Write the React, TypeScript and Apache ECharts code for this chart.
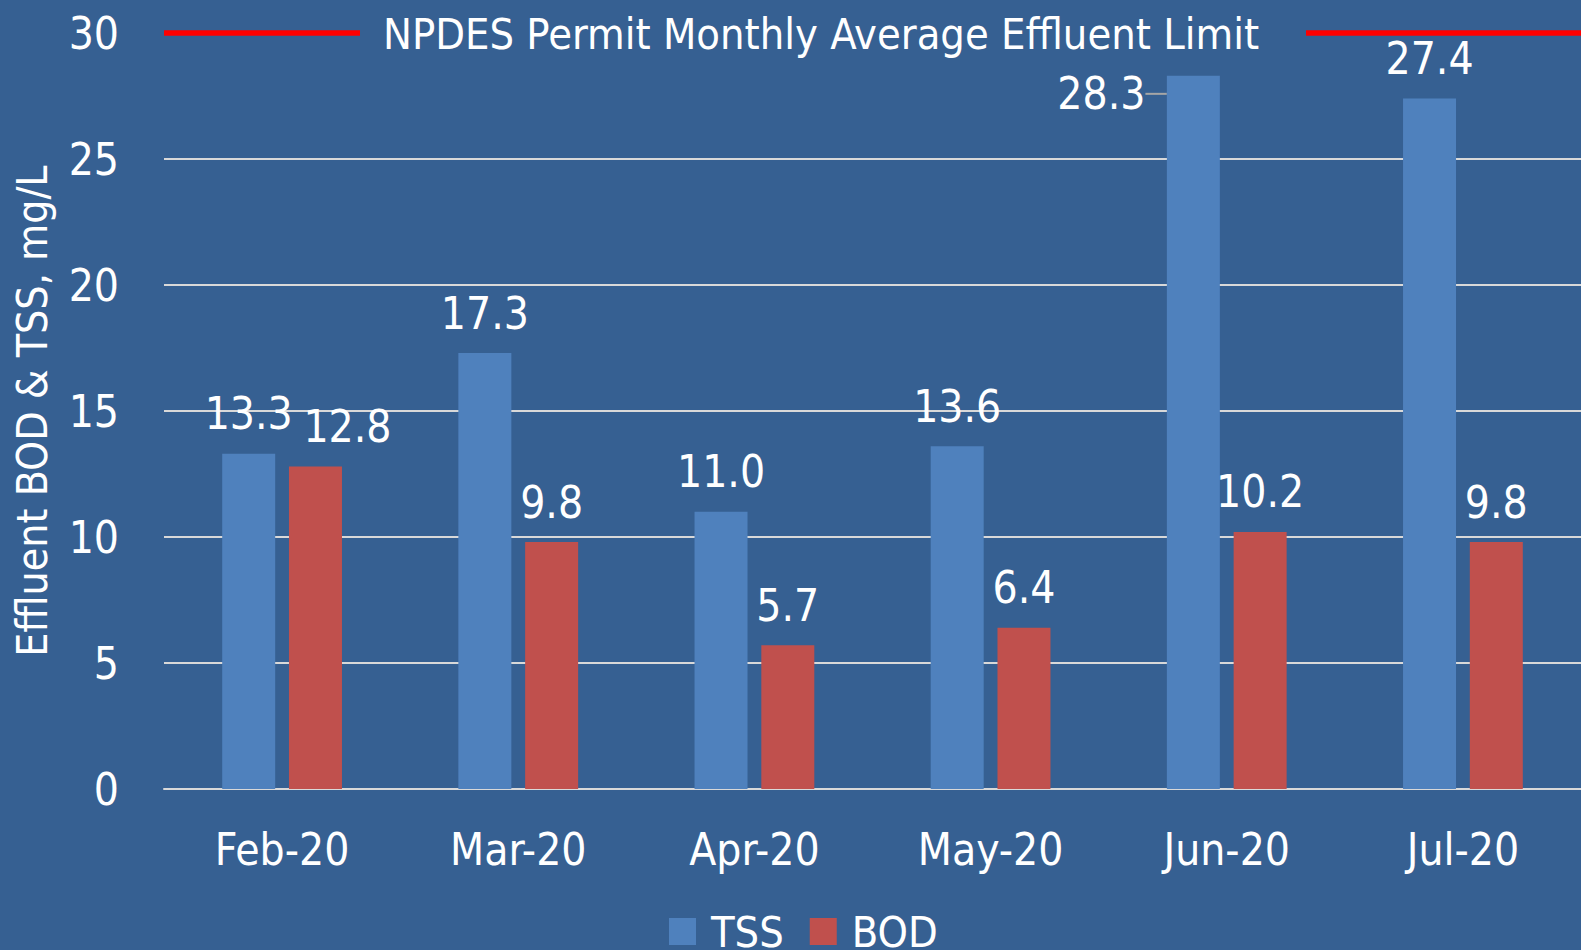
import React, { useEffect, useRef } from "react";
import * as echarts from "echarts";

const categories = ["Feb-20", "Mar-20", "Apr-20", "May-20", "Jun-20", "Jul-20"];
const tssValues = [13.3, 17.3, 11.0, 13.6, 28.3, 27.4];
const bodValues = [12.8, 9.8, 5.7, 6.4, 10.2, 9.8];
const permitLimit = 30;
const limitLabel = "NPDES Permit Monthly Average Effluent Limit";
const yAxisName = "Effluent BOD & TSS, mg/L";

const BG = "#366092";
const FONT = "'Liberation Sans Narrow', 'DejaVu Sans Condensed', sans-serif";
const FS = 44;

export default function App() {
  const ref = useRef<HTMLDivElement>(null);
  useEffect(() => {
    document.body.style.margin = "0";
    const chart = echarts.init(ref.current!, null, { renderer: "svg" });
    const labelCommon = {
      show: true,
      position: "top",
      distance: 18,
      color: "#fff",
      fontSize: FS,
      fontFamily: FONT,
      formatter: (p: any) => Number(p.value).toFixed(1),
    };
    chart.setOption({
      animation: false,
      backgroundColor: BG,
      textStyle: { fontFamily: FONT },
      grid: { left: 164, right: 0, top: 33, bottom: 161, containLabel: false },
      legend: {
        data: ["TSS", "BOD"],
        left: 664,
        top: 905,
        itemWidth: 27,
        itemHeight: 27,
        itemGap: 26,
        icon: "rect",
        textStyle: { color: "#fff", fontSize: 43, fontFamily: FONT, padding: [0, 0, 0, 10] },
      },
      xAxis: {
        type: "category",
        data: categories,
        axisTick: { show: false },
        axisLine: { show: true, lineStyle: { color: "#D9D9D9", width: 2 } },
        axisLabel: { color: "#fff", fontSize: FS, fontFamily: FONT, margin: 38 },
      },
      yAxis: {
        type: "value",
        min: 0,
        max: 30,
        interval: 5,
        name: yAxisName,
        nameLocation: "middle",
        nameRotate: 90,
        nameGap: 110,
        nameTextStyle: { color: "#fff", fontSize: 42.5, fontFamily: FONT },
        axisLine: { show: false },
        axisTick: { show: false },
        axisLabel: { color: "#fff", fontSize: FS, fontFamily: FONT, margin: 45 },
        splitLine: { show: true, lineStyle: { color: "#D9D9D9", width: 2 } },
      },
      series: [
        {
          name: "TSS",
          type: "bar",
          z: 2,
          data: tssValues.map((v, i) =>
            i === 4
              ? { value: v, labelLine: { show: true, lineStyle: { color: "#A6A6A6", width: 2 } } }
              : v
          ),
          barWidth: 53,
          barGap: "26%",
          itemStyle: { color: "#4F81BD" },
          label: labelCommon,
          labelLayout: (p: any) => (p.dataIndex === 4 ? { dx: -92, dy: 58 } : {}),
          markLine: {
            symbol: "none",
            silent: true,
            z: 1,
            lineStyle: { color: "#FF0000", width: 5.5, type: "solid" },
            label: { show: false },
            data: [{ yAxis: permitLimit }],
          },
        },
        {
          name: "BOD",
          type: "bar",
          z: 2,
          data: bodValues,
          barWidth: 53,
          itemStyle: { color: "#C0504D" },
          label: labelCommon,
          labelLayout: (p: any) => (p.dataIndex === 0 ? { dx: 32 } : {}),
        },
      ],
      graphic: [
        {
          type: "rect",
          z: 100,
          zlevel: 0,
          shape: { x: 360, y: 12, width: 946, height: 44 },
          style: { fill: BG },
        },
        {
          type: "text",
          z: 101,
          x: 383,
          y: 34,
          style: {
            text: limitLabel,
            fill: "#fff",
            fontSize: 43,
            fontFamily: FONT,
            verticalAlign: "middle",
            align: "left",
          },
        },
      ],
    });
    return () => chart.dispose();
  }, []);
  return <div ref={ref} style={{ position: "fixed", left: 0, top: 0, width: 1581, height: 950 }} />;
}
